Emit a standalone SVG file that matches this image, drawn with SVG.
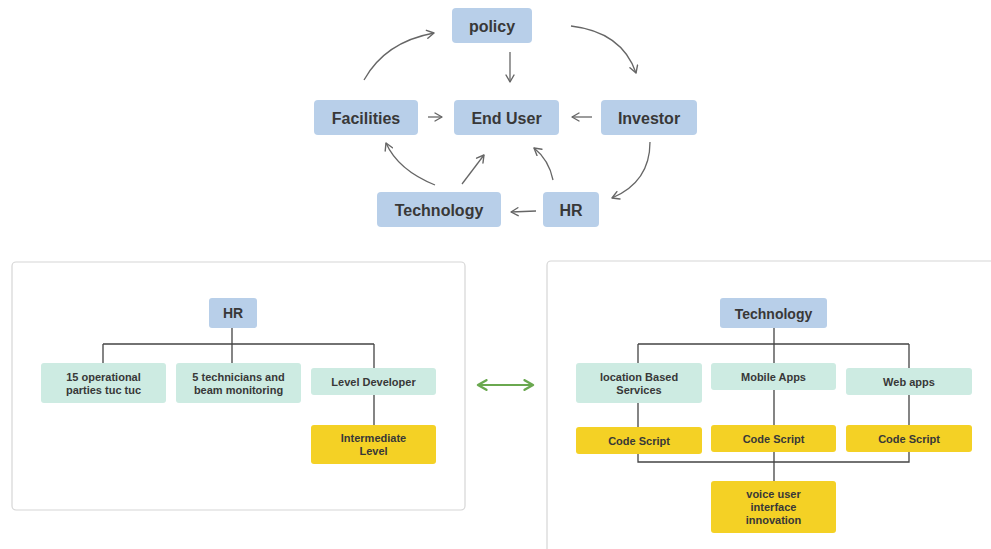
<svg xmlns="http://www.w3.org/2000/svg" width="991" height="549" viewBox="0 0 991 549">
<defs>
<marker id="chev" viewBox="0 0 10 10" refX="8" refY="5" markerWidth="10" markerHeight="10" markerUnits="userSpaceOnUse" orient="auto">
<path d="M1,1 L8,5 L1,9" fill="none" stroke="#666" stroke-width="1.4" stroke-linecap="round" stroke-linejoin="round"/>
</marker>
<marker id="gchev" viewBox="0 0 10 10" refX="8" refY="5" markerWidth="12" markerHeight="12" markerUnits="userSpaceOnUse" orient="auto-start-reverse">
<path d="M1,1 L8,5 L1,9" fill="none" stroke="#6aa84f" stroke-width="2" stroke-linecap="round" stroke-linejoin="round"/>
</marker>
</defs>
<style>
.blue{fill:#b8cfe9;}
.mint{fill:#cdebe2;}
.yel{fill:#f4d125;}
.t{font-family:"Liberation Sans",Arial,sans-serif;font-weight:bold;fill:#383838;text-anchor:middle;dominant-baseline:central;}
.big{font-size:16px;}
.sm{font-size:11px;}
.md{font-size:14px;}
.arr{fill:none;stroke:#666;stroke-width:1.3;marker-end:url(#chev);}
.tree{fill:none;stroke:#444;stroke-width:1.3;}
.panel{fill:#fff;stroke:#d6d6d6;stroke-width:1.2;}
</style>
<rect width="991" height="549" fill="#fff"/>

<g id="panels">
<rect class="panel" x="12" y="262" width="453" height="248" rx="4"/>
<rect class="panel" x="547" y="261" width="460" height="300" rx="4"/>
</g>

<g id="connectors">
<path class="arr" d="M510,52 L510,82"/>
<path class="arr" d="M428,117 L442,117"/>
<path class="arr" d="M592,117 L572,117"/>
<path class="arr" d="M364,80 Q385,42 434,33"/>
<path class="arr" d="M571,26 Q622,32 636,73"/>
<path class="arr" d="M650,142 Q650,182 612,198"/>
<path class="arr" d="M536,211 L511,212"/>
<path class="arr" d="M435,185 Q398,170 386,143"/>
<path class="arr" d="M462,184 L484,155"/>
<path class="arr" d="M553,180 Q549,160 534,148"/>
<path d="M478,385 L533,385" fill="none" stroke="#6aa84f" stroke-width="2" marker-start="url(#gchev)" marker-end="url(#gchev)"/>
<path class="tree" d="M232,328 V344 M103,344 H374 M103,344 V363 M232,344 V363 M374,344 V368 M374,395 V425"/>
<path class="tree" d="M774,328 V363 M638,344 H909 M638,344 V363 M909,344 V368 M638,403 V427 M774,390 V425 M909,395 V425 M638,454 V462 H909 V452 M774,452 V481"/>
</g>

<g id="n-policy"><rect class="blue" x="452" y="8" width="80" height="35" rx="4"/><text class="t big" x="492" y="26">policy</text></g>
<g id="n-facilities"><rect class="blue" x="314" y="100" width="104" height="35" rx="4"/><text class="t big" x="366" y="118">Facilities</text></g>
<g id="n-enduser"><rect class="blue" x="454" y="100" width="105" height="35" rx="4"/><text class="t big" x="506.5" y="118">End User</text></g>
<g id="n-investor"><rect class="blue" x="601" y="100" width="96" height="35" rx="4"/><text class="t big" x="649" y="118">Investor</text></g>
<g id="n-technology"><rect class="blue" x="377" y="192" width="124" height="35" rx="4"/><text class="t big" x="439" y="210">Technology</text></g>
<g id="n-hr"><rect class="blue" x="543" y="192" width="56" height="35" rx="4"/><text class="t big" x="571" y="210">HR</text></g>

<g id="l-hr"><rect class="blue" x="209" y="298" width="48" height="30" rx="3"/><text class="t md" x="233" y="313">HR</text></g>
<g id="l-15op"><rect class="mint" x="41" y="363" width="125" height="40" rx="3"/><text class="t sm" x="103.5" y="377">15 operational</text><text class="t sm" x="103.5" y="390">parties tuc tuc</text></g>
<g id="l-5tech"><rect class="mint" x="176" y="363" width="125" height="40" rx="3"/><text class="t sm" x="238.5" y="377">5 technicians and</text><text class="t sm" x="238.5" y="390">beam monitoring</text></g>
<g id="l-leveldev"><rect class="mint" x="311" y="368" width="125" height="27" rx="3"/><text class="t sm" x="373.5" y="382">Level Developer</text></g>
<g id="l-intermediate"><rect class="yel" x="311" y="425" width="125" height="39" rx="3"/><text class="t sm" x="373.5" y="438">Intermediate</text><text class="t sm" x="373.5" y="451">Level</text></g>

<g id="r-technology"><rect class="blue" x="720" y="298" width="107" height="30" rx="3"/><text class="t md" x="773.5" y="314">Technology</text></g>
<g id="r-location"><rect class="mint" x="576" y="363" width="126" height="40" rx="3"/><text class="t sm" x="639" y="377">location Based</text><text class="t sm" x="639" y="390">Services</text></g>
<g id="r-mobile"><rect class="mint" x="711" y="363" width="125" height="27" rx="3"/><text class="t sm" x="773.5" y="377">Mobile Apps</text></g>
<g id="r-web"><rect class="mint" x="846" y="368" width="126" height="27" rx="3"/><text class="t sm" x="909" y="382">Web apps</text></g>
<g id="r-code1"><rect class="yel" x="576" y="427" width="126" height="27" rx="3"/><text class="t sm" x="639" y="441">Code Script</text></g>
<g id="r-code2"><rect class="yel" x="711" y="425" width="125" height="27" rx="3"/><text class="t sm" x="773.5" y="439">Code Script</text></g>
<g id="r-code3"><rect class="yel" x="846" y="425" width="126" height="27" rx="3"/><text class="t sm" x="909" y="439">Code Script</text></g>
<g id="r-voice"><rect class="yel" x="711" y="481" width="125" height="52" rx="3"/><text class="t sm" x="773.5" y="494">voice user</text><text class="t sm" x="773.5" y="507">interface</text><text class="t sm" x="773.5" y="520">innovation</text></g>
</svg>
